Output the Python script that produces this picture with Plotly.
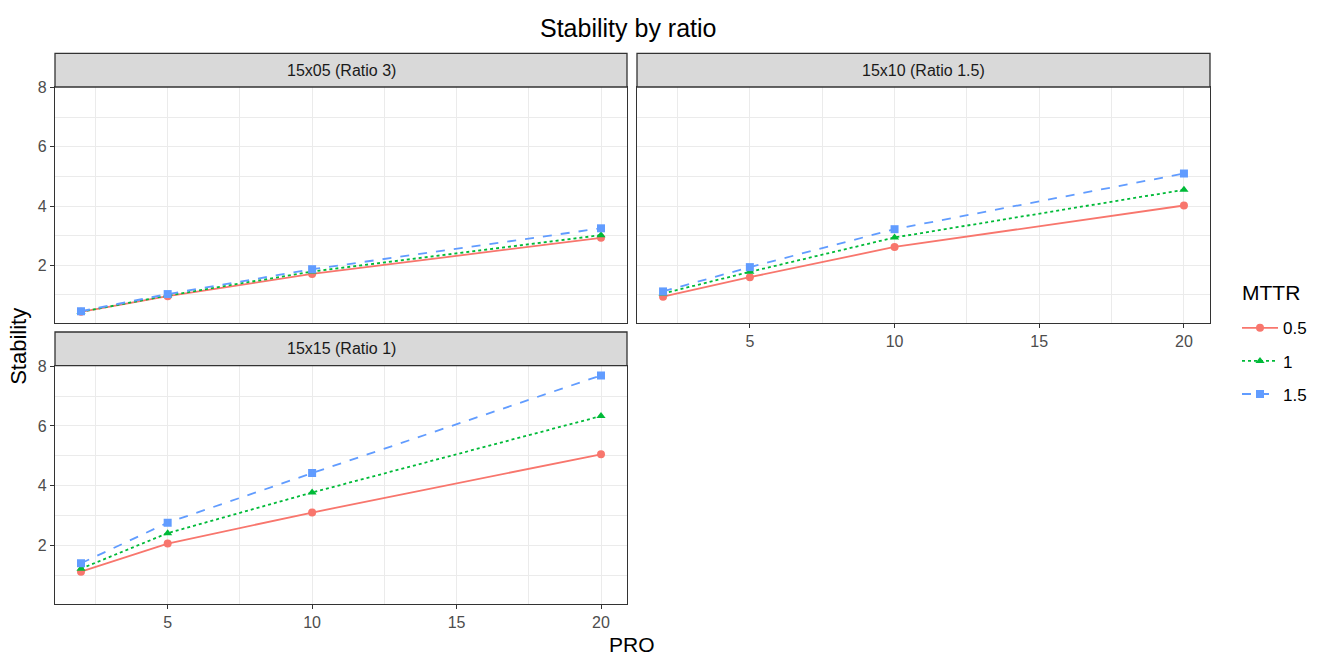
import plotly.graph_objects as go

W, H = 1322, 655

PRO = [2, 5, 10, 20]
MTTR = ["0.5", "1", "1.5"]
panels = ["15x05 (Ratio 3)", "15x10 (Ratio 1.5)", "15x15 (Ratio 1)"]

s_15x05 = {"0.5": [0.43, 0.96, 1.71, 2.93],
           "1":   [0.43, 0.98, 1.79, 3.02],
           "1.5": [0.45, 1.03, 1.87, 3.25]}
s_15x10 = {"0.5": [0.94, 1.60, 2.62, 4.02],
           "1":   [1.05, 1.78, 2.94, 4.55],
           "1.5": [1.12, 1.94, 3.22, 5.10]}
s_15x15 = {"0.5": [1.12, 2.06, 3.10, 5.05],
           "1":   [1.22, 2.41, 3.77, 6.33],
           "1.5": [1.40, 2.76, 4.42, 7.69]}
series = [s_15x05, s_15x10, s_15x15]

colors = {"0.5": "#F8766D", "1": "#00BA38", "1.5": "#619CFF"}
symbols = {"0.5": "circle", "1": "triangle-up", "1.5": "square"}
dashes = {"0.5": "solid", "1": "dot", "1.5": "dash"}

FONT = "Liberation Sans, Arial, sans-serif"

def px_x(p):
    return p / W

def px_y(p):
    return 1 - p / H

# panel boxes in pixels: (left, top, right, bottom) of plot area
boxes = [(55, 80, 627, 319), (637, 80, 1210, 319), (55, 362, 627, 603)]
strip_h = 34

fig = go.Figure()
for i, (name, data) in enumerate(zip(panels, series)):
    ax = "" if i == 0 else str(i + 1)
    for m in MTTR:
        fig.add_trace(go.Scatter(
            x=PRO, y=data[m], mode="lines+markers", name=m,
            legendgroup=m, showlegend=(i == 0),
            line=dict(color=colors[m], dash=dashes[m], width=1.8),
            marker=dict(color=colors[m], symbol=symbols[m], size=8),
            xaxis="x" + ax, yaxis="y" + ax))

layout = dict(
    width=W, height=H, margin=dict(l=0, r=0, t=0, b=0),
    paper_bgcolor="white", plot_bgcolor="white",
    font=dict(family=FONT, color="#4D4D4D"),
    showlegend=True,
    legend=dict(
        x=px_x(1237), y=px_y(306), xanchor="left", yanchor="top",
        font=dict(size=17, color="black"),
        traceorder="grouped", tracegroupgap=8, itemwidth=36,
        bgcolor="rgba(0,0,0,0)"),
)

shapes = []
annotations = []
for i, (l, t, r, b) in enumerate(boxes):
    ax = "" if i == 0 else str(i + 1)
    show_x = i in (1, 2)
    show_y = i in (0, 2)
    layout["xaxis" + ax] = dict(
        domain=[px_x(l), px_x(r)], anchor="y" + ax, range=[1.1, 20.9],
        tick0=0, dtick=5, showticklabels=show_x,
        ticks="outside" if show_x else "", ticklen=4, tickcolor="#333333",
        tickfont=dict(size=16, color="#4D4D4D"),
        showgrid=True, gridcolor="#EBEBEB", gridwidth=1.4,
        minor=dict(dtick=2.5, tick0=0, showgrid=True, gridcolor="#EBEBEB", gridwidth=0.8),
        showline=True, linecolor="#333333", linewidth=1.3, mirror=True,
        zeroline=False)
    layout["yaxis" + ax] = dict(
        domain=[px_y(b), px_y(t)], anchor="x" + ax, range=[0.05, 8.02],
        tick0=0, dtick=2, showticklabels=show_y,
        ticks="outside" if show_y else "", ticklen=4, tickcolor="#333333",
        tickfont=dict(size=16, color="#4D4D4D"),
        showgrid=True, gridcolor="#EBEBEB", gridwidth=1.4,
        minor=dict(dtick=1, tick0=0, showgrid=True, gridcolor="#EBEBEB", gridwidth=0.8),
        showline=True, linecolor="#333333", linewidth=1.3, mirror=True,
        zeroline=False)
    # strip
    shapes.append(dict(type="rect", xref="paper", yref="paper",
                       x0=px_x(l), x1=px_x(r), y0=px_y(t), y1=px_y(t - strip_h),
                       fillcolor="#D9D9D9", line=dict(color="#333333", width=1.3),
                       layer="above"))
    annotations.append(dict(text=panels[i], xref="paper", yref="paper",
                            x=px_x((l + r) / 2), y=px_y(t - strip_h / 2),
                            showarrow=False, xanchor="center", yanchor="middle",
                            font=dict(size=16, color="#1A1A1A")))

annotations.append(dict(text="Stability by ratio", xref="paper", yref="paper",
                        x=px_x(628), y=px_y(20), showarrow=False,
                        xanchor="center", yanchor="middle",
                        font=dict(size=25, color="black")))
annotations.append(dict(text="PRO", xref="paper", yref="paper",
                        x=px_x(632), y=px_y(644), showarrow=False,
                        xanchor="center", yanchor="middle",
                        font=dict(size=21, color="black")))
annotations.append(dict(text="Stability", xref="paper", yref="paper",
                        x=px_x(19), y=px_y(343), showarrow=False, textangle=-90,
                        xanchor="center", yanchor="middle",
                        font=dict(size=22, color="black")))
annotations.append(dict(text="MTTR", xref="paper", yref="paper",
                        x=px_x(1240), y=px_y(288), showarrow=False,
                        xanchor="left", yanchor="middle",
                        font=dict(size=21, color="black")))

layout["shapes"] = shapes
layout["annotations"] = annotations
fig.update_layout(**layout)
fig.write_html("out.html")
